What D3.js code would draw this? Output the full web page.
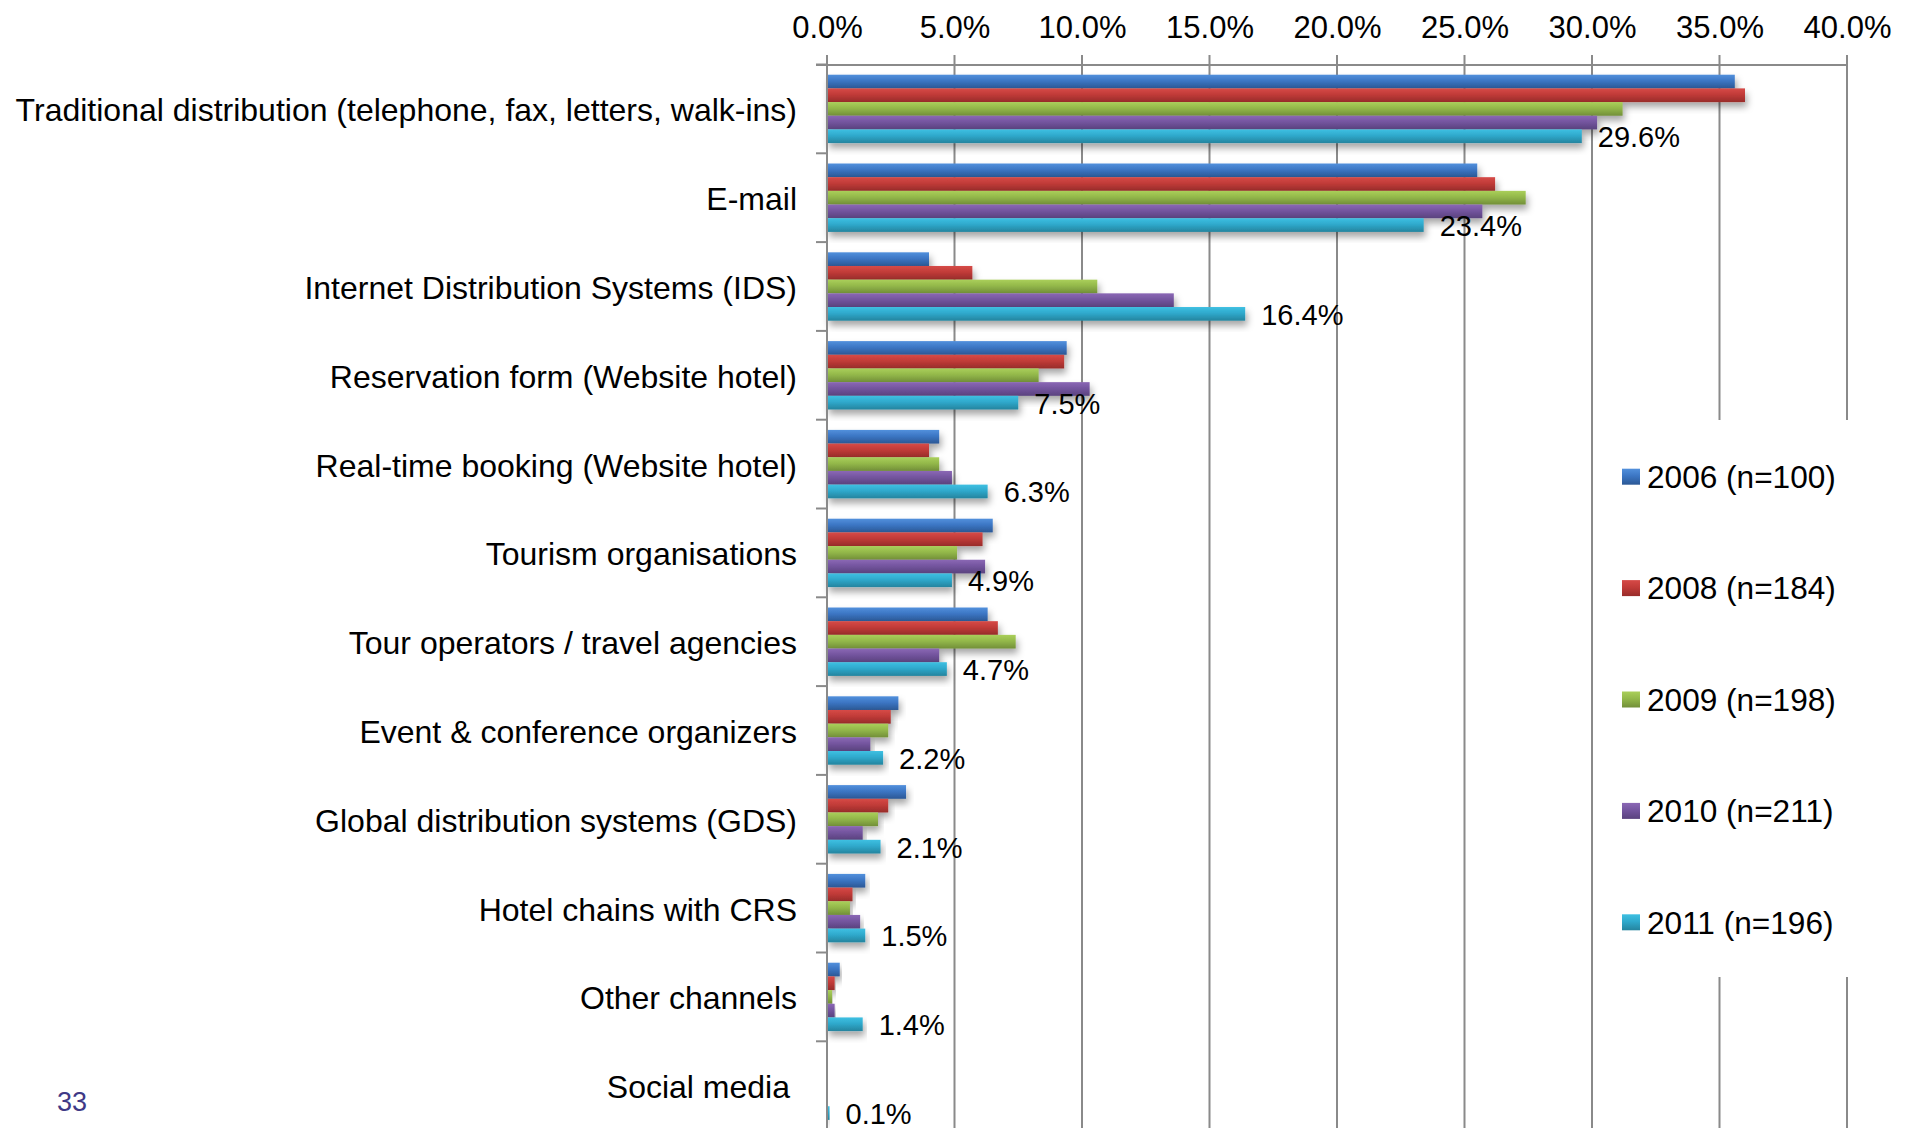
<!DOCTYPE html>
<html>
<head>
<meta charset="utf-8">
<script src="https://cdn.jsdelivr.net/npm/d3@7"></script>
<style>
  body { margin: 0; background: #fff; }
  svg { display: block; font-family: "Liberation Sans", Arial, sans-serif; }
</style>
</head>
<body>
<div id="chart"></div>
<script>
// booking channels share, per survey year
const categories = [
    "Traditional distribution (telephone, fax, letters, walk-ins)",
    "E-mail",
    "Internet Distribution Systems (IDS)",
    "Reservation form (Website hotel)",
    "Real-time booking (Website hotel)",
    "Tourism organisations",
    "Tour operators / travel agencies",
    "Event & conference organizers",
    "Global distribution systems (GDS)",
    "Hotel chains with CRS",
    "Other channels",
    "Social media"
];

const years = ["2006 (n=100)", "2008 (n=184)", "2009 (n=198)", "2010 (n=211)", "2011 (n=196)"];

const values2006 = [35.6, 25.5, 4.0, 9.4, 4.4, 6.5, 6.3, 2.8, 3.1, 1.5, 0.5, null];
const values2008 = [36.0, 26.2, 5.7, 9.3, 4.0, 6.1, 6.7, 2.5, 2.4, 1.0, 0.3, null];
const values2009 = [31.2, 27.4, 10.6, 8.3, 4.4, 5.1, 7.4, 2.4, 2.0, 0.9, 0.2, null];
const values2010 = [30.2, 25.7, 13.6, 10.3, 4.9, 6.2, 4.4, 1.7, 1.4, 1.3, 0.3, null];
const values2011 = [29.6, 23.4, 16.4, 7.5, 6.3, 4.9, 4.7, 2.2, 2.1, 1.5, 1.4, 0.1];

const seriesValues = [values2006, values2008, values2009, values2010, values2011];

const tickValues = [0, 5, 10, 15, 20, 25, 30, 35, 40];

// gradient stops per series: top, middle, bottom
const seriesColors = [
    ["#5290dc", "#3c76c4", "#2b5895"],
    ["#d64a47", "#c13b38", "#982c2a"],
    ["#aacf5a", "#93b84a", "#728f39"],
    ["#8b68b5", "#74559f", "#5a427e"],
    ["#3ec0e2", "#2fa9cc", "#25849e"]
];

const width = 1915;
const height = 1128;

const x = d3.scaleLinear().domain([0, 40]).range([827, 1847]);
const y = d3.scaleBand().domain(categories).range([64.5, 64.5 + 12 * 88.8]);
const yInner = d3.scaleBand().domain(years).range([10.2, 78.6]);

const svg = d3.select("#chart").append("svg")
    .attr("width", width)
    .attr("height", height);

const defs = svg.append("defs");

seriesColors.forEach(function(c, i) {
    const g = defs.append("linearGradient")
        .attr("id", "grad" + i)
        .attr("x1", 0).attr("y1", 0).attr("x2", 0).attr("y2", 1);
    g.append("stop").attr("offset", "0%").attr("stop-color", c[0]);
    g.append("stop").attr("offset", "45%").attr("stop-color", c[1]);
    g.append("stop").attr("offset", "100%").attr("stop-color", c[2]);
});

const shadow = defs.append("filter")
    .attr("id", "shadow")
    .attr("x", "-5%").attr("y", "-40%")
    .attr("width", "115%").attr("height", "220%");
shadow.append("feDropShadow")
    .attr("dx", 2).attr("dy", 5)
    .attr("stdDeviation", 3.5)
    .attr("flood-color", "#000")
    .attr("flood-opacity", 0.35);

const axisColor = "#8a8a8a";
const axisY = 65;

// vertical gridlines (they stick out above the axis as tick marks)
svg.append("g")
    .selectAll("line")
    .data(tickValues)
    .join("line")
    .attr("x1", d => x(d))
    .attr("x2", d => x(d))
    .attr("y1", axisY - 10)
    .attr("y2", height)
    .attr("stroke", axisColor)
    .attr("stroke-width", 2);

// top axis line
svg.append("line")
    .attr("x1", 816).attr("x2", x(40))
    .attr("y1", axisY).attr("y2", axisY)
    .attr("stroke", axisColor)
    .attr("stroke-width", 2);

// top axis labels
const xAxis = d3.axisTop(x)
    .tickValues(tickValues)
    .tickSize(0)
    .tickPadding(0)
    .tickFormat(d => d3.format(".1%")(d / 100));

svg.append("g")
    .attr("transform", "translate(0,38)")
    .call(xAxis)
    .call(g => g.select(".domain").remove())
    .selectAll("text")
    .attr("font-size", 31)
    .attr("font-family", "Liberation Sans, Arial, sans-serif")
    .attr("fill", "#000");

// category boundary ticks on the left axis
const bounds = d3.range(categories.length + 1).map(i => 64.5 + i * y.step());
svg.append("g")
    .selectAll("line")
    .data(bounds)
    .join("line")
    .attr("x1", 816).attr("x2", x(0))
    .attr("y1", d => d).attr("y2", d => d)
    .attr("stroke", axisColor)
    .attr("stroke-width", 2);

// category labels
const yAxis = d3.axisLeft(y).tickSize(0).tickPadding(30);
svg.append("g")
    .attr("transform", "translate(" + x(0) + ",0)")
    .call(yAxis)
    .call(g => g.select(".domain").remove())
    .selectAll("text")
    .attr("font-size", 32)
    .attr("font-family", "Liberation Sans, Arial, sans-serif")
    .attr("fill", "#000")
    .attr("dy", "0.39em")
    .attr("dx", d => d === "Social media" ? -7 : 0);

// bars
const barData = [];
categories.forEach(function(cat, ci) {
    years.forEach(function(yr, si) {
        const v = seriesValues[si][ci];
        if (v !== null) barData.push({ cat: cat, year: yr, s: si, value: v });
    });
});

svg.append("g")
    .selectAll("rect")
    .data(barData)
    .join("rect")
    .attr("x", x(0))
    .attr("y", d => y(d.cat) + yInner(d.year))
    .attr("width", d => x(d.value) - x(0))
    .attr("height", yInner.bandwidth())
    .attr("fill", d => "url(#grad" + d.s + ")")
    .attr("filter", "url(#shadow)");

// left axis line on top of bars
svg.append("line")
    .attr("x1", x(0)).attr("x2", x(0))
    .attr("y1", axisY - 10).attr("y2", height)
    .attr("stroke", axisColor)
    .attr("stroke-width", 2);

// data labels for 2011
svg.append("g")
    .selectAll("text")
    .data(categories)
    .join("text")
    .attr("x", (d, i) => x(values2011[i]) + 16)
    .attr("y", d => y(d) + yInner(years[4]) + yInner.bandwidth() / 2)
    .attr("dy", "0.38em")
    .attr("font-size", 29)
    .attr("fill", "#000")
    .text((d, i) => values2011[i].toFixed(1) + "%");

// legend
svg.append("rect")
    .attr("x", 1606).attr("y", 420)
    .attr("width", 309).attr("height", 557)
    .attr("fill", "#fff");

const legend = svg.append("g")
    .selectAll("g")
    .data(years)
    .join("g")
    .attr("transform", (d, i) => "translate(1622," + (476.7 + i * 111.4) + ")");

legend.append("rect")
    .attr("x", 0).attr("y", -8)
    .attr("width", 18).attr("height", 16)
    .attr("fill", (d, i) => "url(#grad" + i + ")");

legend.append("text")
    .attr("x", 25)
    .attr("dy", "0.36em")
    .attr("font-size", 31.6)
    .attr("fill", "#000")
    .text(d => d);

// slide number
svg.append("text")
    .attr("x", 57).attr("y", 1111)
    .attr("font-size", 27)
    .attr("fill", "#3f3986")
    .text("33");
</script>
</body>
</html>
